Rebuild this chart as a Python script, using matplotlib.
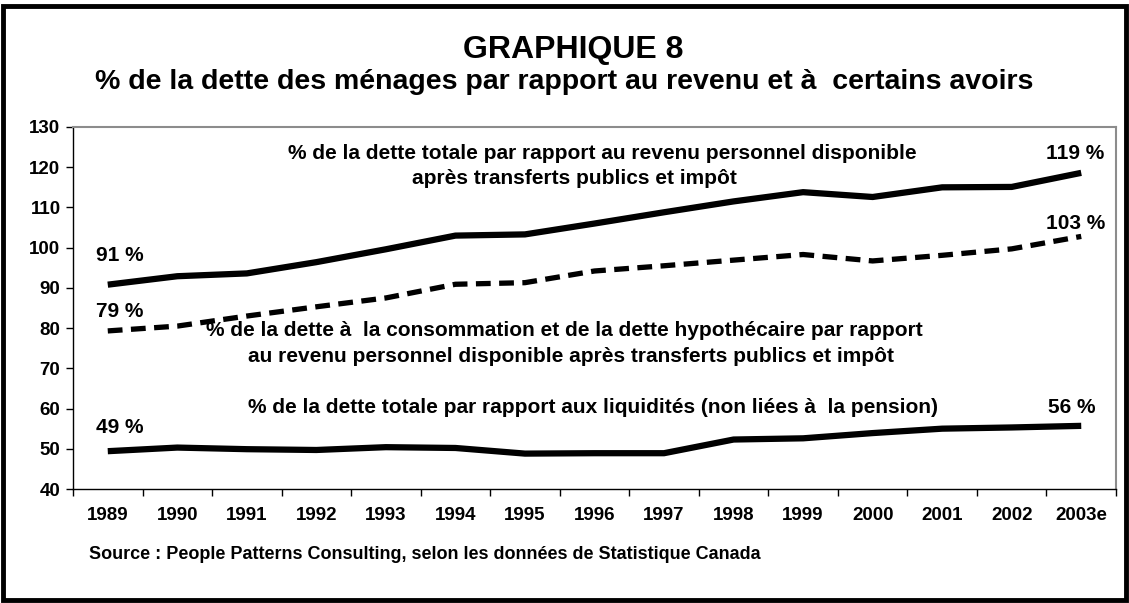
import matplotlib.pyplot as plt
from matplotlib.patches import Rectangle

plt.rcParams['font.family'] = ['Liberation Sans', 'DejaVu Sans']
plt.rcParams['font.weight'] = 'bold'

YEARS = ["1989", "1990", "1991", "1992", "1993", "1994", "1995", "1996",
         "1997", "1998", "1999", "2000", "2001", "2002", "2003e"]

# dette totale / revenu personnel disponible
debt_income = [90.8, 92.9, 93.6, 96.4, 99.6, 103.0, 103.3, 106.0,
               108.8, 111.5, 113.8, 112.6, 115.0, 115.1, 118.6]
# dette a la consommation + hypothecaire / revenu
cons_mort_income = [79.3, 80.5, 83.0, 85.3, 87.5, 90.9, 91.3, 94.2,
                    95.5, 96.9, 98.3, 96.7, 98.1, 99.7, 102.8]
# dette totale / liquidites
debt_liquid = [49.4, 50.3, 49.9, 49.7, 50.4, 50.2, 48.8, 48.9,
               48.9, 52.3, 52.6, 53.9, 55.0, 55.3, 55.7]

W, H = 1129, 603
fig = plt.figure(figsize=(W / 100, H / 100), dpi=100)
ax = fig.add_axes([73 / W, 1 - 489 / H, 1043 / W, 362 / H])


def px(x, y):
    return x / W, 1 - y / H


x = list(range(len(YEARS)))
ax.plot(x, debt_income, color='black', lw=4.5, solid_capstyle='butt')
ax.plot(x, cons_mort_income, color='black', lw=3.8, dashes=(2.8, 1.6))
ax.plot(x, debt_liquid, color='black', lw=4.5, solid_capstyle='butt')

ax.set_xlim(-0.5, len(YEARS) - 0.5)
ax.set_ylim(40, 130)
ax.set_yticks(range(40, 131, 10))
ax.set_xticks(x)
ax.set_xticklabels(YEARS)
ax.set_xticks([i - 0.5 for i in range(len(YEARS) + 1)], minor=True)
ax.tick_params(axis='x', which='major', length=0, pad=13, labelsize=13.5)
ax.tick_params(axis='x', which='minor', length=5, width=1, direction='out')
ax.tick_params(axis='y', length=5, width=1, direction='out', labelsize=13.5, pad=4)
for lab in ax.get_xticklabels() + ax.get_yticklabels():
    lab.set_fontweight('bold')

for side in ['top', 'right']:
    ax.spines[side].set_color('#8c8c8c')
    ax.spines[side].set_linewidth(1.5)
for side in ['left', 'bottom']:
    ax.spines[side].set_color('black')
    ax.spines[side].set_linewidth(1)

# annotations (placed in pixel positions of the figure)
fs = 15
notes = [
    (288, 159, "% de la dette totale par rapport au revenu personnel disponible"),
    (412, 184, "après transferts publics et impôt"),
    (206, 336, "% de la dette à  la consommation et de la dette hypothécaire par rapport"),
    (248, 362, "au revenu personnel disponible après transferts publics et impôt"),
    (248, 413, "% de la dette totale par rapport aux liquidités (non liées à  la pension)"),
]
for nx, ny, txt in notes:
    fig.text(*px(nx, ny), txt, ha='left', va='baseline', fontsize=fs, fontweight='bold')

labels = [
    (96, 261, "91 %"), (96, 317, "79 %"), (96, 433, "49 %"),
    (1046, 159, "119 %"), (1046, 229, "103 %"), (1048, 413, "56 %"),
]
for lx, ly, txt in labels:
    fig.text(*px(lx, ly), txt, ha='left', va='baseline', fontsize=fs, fontweight='bold')

fig.text(*px(573, 58), "GRAPHIQUE 8", ha='center', va='baseline',
         fontsize=23, fontweight='bold')
fig.text(*px(564, 89), "% de la dette des ménages par rapport au revenu et à  certains avoirs",
         ha='center', va='baseline', fontsize=20.5, fontweight='bold')
fig.text(*px(89, 559),
         "Source : People Patterns Consulting, selon les données de Statistique Canada",
         ha='left', va='baseline', fontsize=13, fontweight='bold')

fig.patches.append(Rectangle((3 / W, 3 / H), 1 - 6 / W, 1 - 9 / H,
                             transform=fig.transFigure, fill=False,
                             edgecolor='black', linewidth=3.5))

fig.savefig('out.png', dpi=100)
